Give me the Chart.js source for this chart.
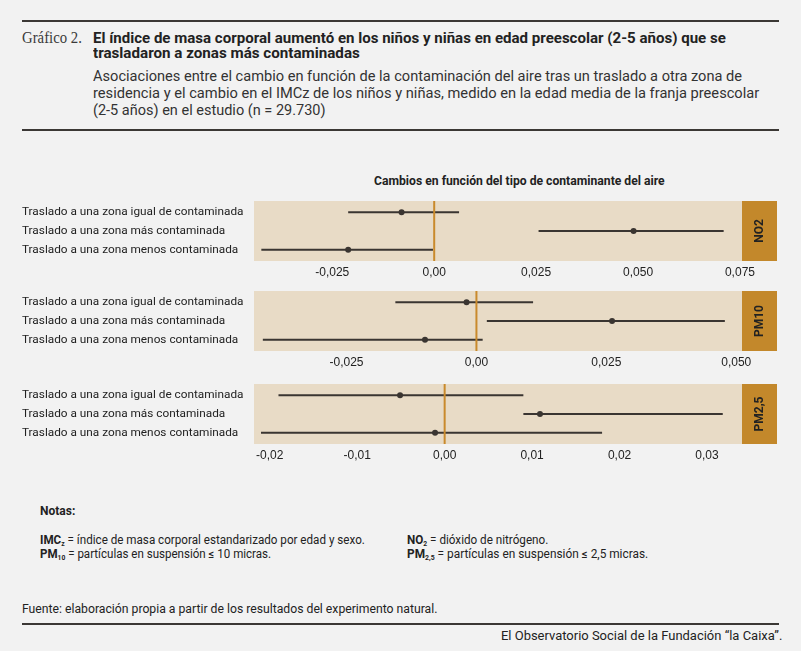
<!DOCTYPE html>
<html lang="es">
<head>
<meta charset="utf-8">
<title>Gráfico 2</title>
<script src="https://cdn.jsdelivr.net/npm/chart.js@4.4.1/dist/chart.umd.min.js"></script>
<style>
  html, body { margin: 0; padding: 0; }
  body {
    width: 801px; height: 651px; position: relative; overflow: hidden;
    background: #f2f2f2; color: #222;
    font-family: Roboto, "Liberation Sans", sans-serif;
  }
  .rule { position: absolute; left: 22px; width: 757px; height: 2px; background: #3b3835; }
  .t { position: absolute; white-space: nowrap; display: inline-block; transform-origin: left center; }
  .right { transform-origin: right center; }
  canvas { position: absolute; left: 0; }
  sub { font-size: 7px; vertical-align: -2px; line-height: 0; }
</style>
</head>
<body>

<div class="rule" style="top:20px"></div>
<div class="t" data-w="60" style="left:22px;top:29px;font:16px/18px 'Liberation Serif', serif;color:#3a3a3a">Gráfico 2.</div>
<div class="t" data-w="633" style="left:93px;top:30px;font:bold 15px/16px Roboto;color:#222">El índice de masa corporal aumentó en los niños y niñas en edad preescolar (2-5 años) que se</div>
<div class="t" data-w="267" style="left:93px;top:45px;font:bold 15px/16px Roboto;color:#222">trasladaron a zonas más contaminadas</div>
<div class="t" data-w="649" style="left:93px;top:67px;font:15px/18px Roboto;color:#333">Asociaciones entre el cambio en función de la contaminación del aire tras un traslado a otra zona de</div>
<div class="t" data-w="666" style="left:93px;top:84px;font:15px/18px Roboto;color:#333">residencia y el cambio en el IMCz de los niños y niñas, medido en la edad media de la franja preescolar</div>
<div class="t" data-w="233" style="left:93px;top:101px;font:15px/18px Roboto;color:#333">(2-5 años) en el estudio (n = 29.730)</div>
<div class="rule" style="top:129px"></div>

<div class="t" data-w="291" style="left:374px;top:173px;font:bold 12px/16px Roboto;color:#222">Cambios en función del tipo de contaminante del aire</div>

<canvas id="panelNo2" width="801" height="94" style="top:191px"></canvas>
<canvas id="panelPm10" width="801" height="94" style="top:281px"></canvas>
<canvas id="panelPm25" width="801" height="94" style="top:374px"></canvas>

<div class="t" data-w="35" style="left:40px;top:503px;font:bold 12px/16px Roboto">Notas:</div>
<div class="t" data-w="325" style="left:40px;top:532px;font:12px/16px Roboto"><b>IMC<sub>z</sub></b> = índice de masa corporal estandarizado por edad y sexo.</div>
<div class="t" data-w="231" style="left:40px;top:546px;font:12px/16px Roboto"><b>PM<sub>10</sub></b> = partículas en suspensión ≤ 10 micras.</div>
<div class="t" data-w="141" style="left:407px;top:532px;font:12px/16px Roboto"><b>NO<sub>2</sub></b> = dióxido de nitrógeno.</div>
<div class="t" data-w="241" style="left:407px;top:546px;font:12px/16px Roboto"><b>PM<sub>2,5</sub></b> = partículas en suspensión ≤ 2,5 micras.</div>

<div class="t" data-w="415" style="left:22px;top:601px;font:12px/16px Roboto">Fuente: elaboración propia a partir de los resultados del experimento natural.</div>
<div class="rule" style="top:623px"></div>
<div class="t right" data-w="281" style="right:19px;top:628px;font:12px/16px Roboto">El Observatorio Social de la Fundación “la Caixa”.</div>

<script>
// Datos
const categories = [
  "Traslado a una zona igual de contaminada",
  "Traslado a una zona más contaminada",
  "Traslado a una zona menos contaminada",
];
const pollutants = ["NO2", "PM10", "PM2,5"];

const no2Est = [-0.0080, 0.0489, -0.0211];
const no2Low = [-0.0211, 0.0256, -0.0424];
const no2High = [0.0061, 0.0710, -0.0003];

const pm10Est = [-0.0019, 0.0261, -0.0099];
const pm10Low = [-0.0156, 0.0020, -0.0411];
const pm10High = [0.0109, 0.0478, 0.0012];

const pm25Est = [-0.0051, 0.0109, -0.0011];
const pm25Low = [-0.0190, 0.0090, -0.0210];
const pm25High = [0.0090, 0.0318, 0.0180];

const no2Ticks = [-0.025, 0, 0.025, 0.05, 0.075];
const no2TickLabels = ["-0,025", "0,00", "0,025", "0,050", "0,075"];
const pm10Ticks = [-0.025, 0, 0.025, 0.05];
const pm10TickLabels = ["-0,025", "0,00", "0,025", "0,050"];
const pm25Ticks = [-0.02, -0.01, 0, 0.01, 0.02, 0.03];
const pm25TickLabels = ["-0,02", "-0,01", "0,00", "0,01", "0,02", "0,03"];

const no2Range = [-0.0442, 0.0755];
const pm10Range = [-0.0428, 0.0511];
const pm25Range = [-0.0218, 0.0340];

// Colores
const panelFill = "#e8dbc6";
const stripFill = "#c3882b";
const zeroColor = "#c98a2c";
const barColor = "#3a3531";

// Ajuste del ancho de los textos
function fitTexts() {
  document.querySelectorAll(".t[data-w]").forEach((el) => {
    const w = parseFloat(el.dataset.w);
    el.style.transform = "scaleX(" + (w / el.offsetWidth) + ")";
  });
}
fitTexts();
if (document.fonts) document.fonts.ready.then(fitTexts);

// Fondo del panel, franja lateral, barras de error y línea del cero
const panelPlugin = {
  id: "panel",
  beforeDraw(chart) {
    const { ctx, chartArea: a } = chart;
    const strip = chart.options.plugins.panel.strip;
    ctx.save();
    ctx.fillStyle = panelFill;
    ctx.fillRect(a.left, a.top, a.right - a.left, a.bottom - a.top);
    ctx.fillStyle = stripFill;
    ctx.fillRect(a.right, a.top, 35, a.bottom - a.top);
    ctx.translate(a.right + 18, (a.top + a.bottom) / 2);
    ctx.rotate(-Math.PI / 2);
    ctx.fillStyle = "#222";
    ctx.font = "bold 12px Roboto";
    ctx.textAlign = "center";
    ctx.textBaseline = "middle";
    ctx.fillText(strip, 0, 0);
    ctx.restore();
  },
  beforeDatasetsDraw(chart) {
    const { ctx } = chart;
    const ds = chart.data.datasets[0];
    const x = chart.scales.x;
    const y = chart.scales.y;
    ctx.save();
    ctx.strokeStyle = barColor;
    ctx.lineWidth = 2;
    ds.low.forEach((lo, i) => {
      const py = y.getPixelForValue(i);
      ctx.beginPath();
      ctx.moveTo(x.getPixelForValue(lo), py);
      ctx.lineTo(x.getPixelForValue(ds.high[i]), py);
      ctx.stroke();
    });
    ctx.restore();
  },
  afterDatasetsDraw(chart) {
    const { ctx, chartArea: a } = chart;
    const px = chart.scales.x.getPixelForValue(0);
    ctx.save();
    ctx.strokeStyle = zeroColor;
    ctx.lineWidth = 2;
    ctx.beginPath();
    ctx.moveTo(px, a.top);
    ctx.lineTo(px, a.bottom);
    ctx.stroke();
    ctx.restore();
  },
};

function makePanel(id, est, low, high, ticks, tickLabels, range, strip) {
  const canvas = document.getElementById(id);
  return new Chart(canvas, {
    type: "scatter",
    data: {
      datasets: [
        {
          data: est.map((v, i) => ({ x: v, y: i })),
          low: low,
          high: high,
          pointRadius: 3,
          pointBackgroundColor: barColor,
          pointBorderWidth: 0,
        },
      ],
    },
    plugins: [panelPlugin],
    options: {
      responsive: false,
      animation: false,
      layout: { padding: { left: 22, right: 59, top: 10, bottom: 0 } },
      plugins: {
        legend: { display: false },
        tooltip: { enabled: false },
        panel: { strip: strip },
      },
      scales: {
        x: {
          type: "linear",
          min: range[0],
          max: range[1],
          afterBuildTicks: (axis) => {
            axis.ticks = ticks.map((v) => ({ value: v }));
          },
          afterFit: (axis) => {
            axis.height = 24;
          },
          grid: { display: false, drawTicks: false },
          border: { display: false },
          ticks: {
            padding: 4,
            maxRotation: 0,
            autoSkip: false,
            color: "#222",
            font: { family: "'Liberation Sans', Arial", size: 12 },
            callback: (value, index) => tickLabels[index],
          },
        },
        y: {
          type: "linear",
          reverse: true,
          min: -0.6,
          max: 2.6,
          afterBuildTicks: (axis) => {
            axis.ticks = categories.map((c, i) => ({ value: i }));
          },
          afterFit: (axis) => {
            axis.width = 232;
          },
          grid: { display: false, drawTicks: false },
          border: { display: false },
          ticks: {
            padding: 0,
            crossAlign: "far",
            color: "#222",
            font: { family: "Roboto", size: 11.8 },
            callback: (value) => categories[value],
          },
        },
      },
    },
  });
}

makePanel("panelNo2", no2Est, no2Low, no2High, no2Ticks, no2TickLabels, no2Range, pollutants[0]);
makePanel("panelPm10", pm10Est, pm10Low, pm10High, pm10Ticks, pm10TickLabels, pm10Range, pollutants[1]);
makePanel("panelPm25", pm25Est, pm25Low, pm25High, pm25Ticks, pm25TickLabels, pm25Range, pollutants[2]);
</script>
</body>
</html>
